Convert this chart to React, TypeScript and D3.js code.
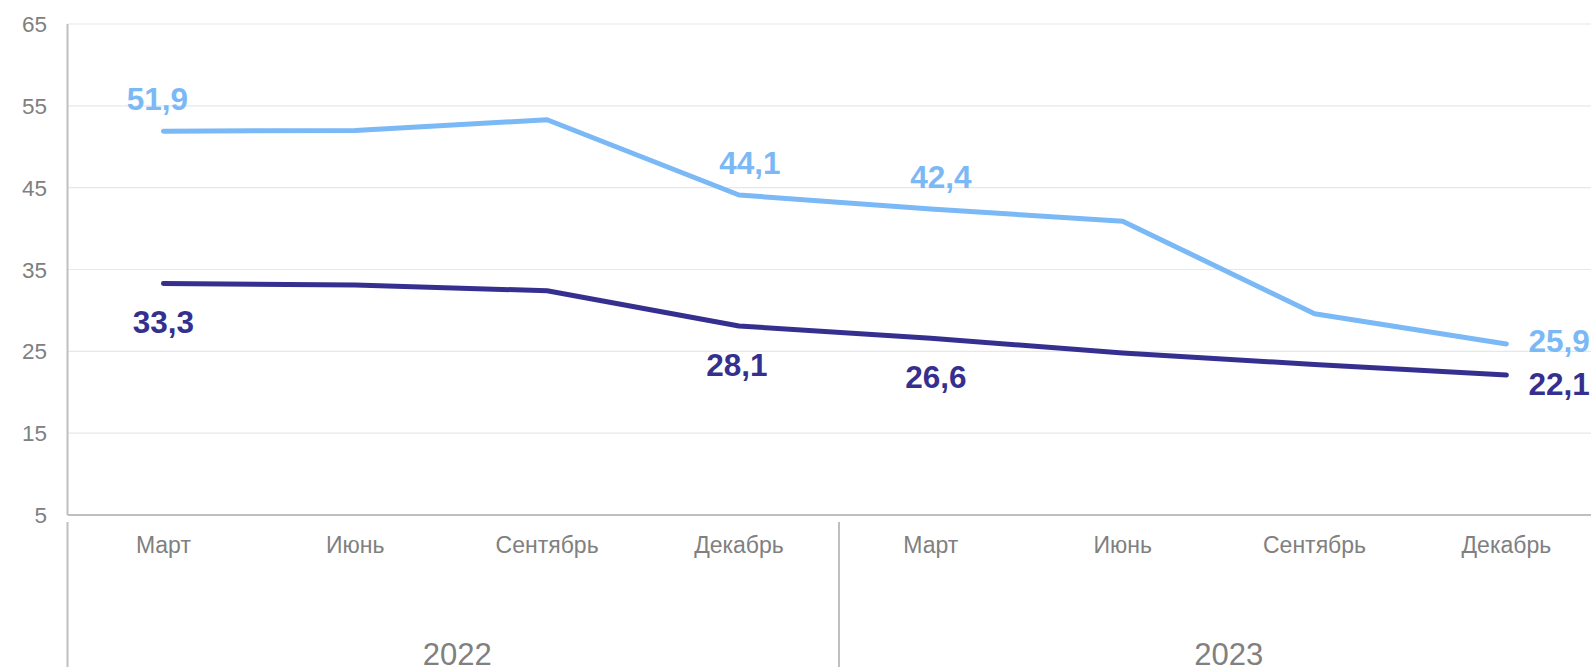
import React from "react";
import * as d3 from "d3";

const months = ["Март", "Июнь", "Сентябрь", "Декабрь", "Март", "Июнь", "Сентябрь", "Декабрь"];
const years = ["2022", "2023"];
const seriesLight = [51.9, 52.0, 53.3, 44.1, 42.4, 40.9, 29.6, 25.9];
const seriesDark = [33.3, 33.1, 32.4, 28.1, 26.6, 24.8, 23.4, 22.1];
const yTicks = [5, 15, 25, 35, 45, 55, 65];
// indices of points that carry a data label, with placement
const lightLabels = [
  { i: 0, pos: "above", dx: -6, dy: 0 },
  { i: 3, pos: "above", dx: 11, dy: 0 },
  { i: 4, pos: "above", dx: 10, dy: 0 },
  { i: 7, pos: "right", dx: 0, dy: 8 },
];
const darkLabels = [
  { i: 0, pos: "below", dx: 0, dy: 0 },
  { i: 3, pos: "below", dx: -2, dy: 0 },
  { i: 4, pos: "below", dx: 5, dy: 0 },
  { i: 7, pos: "right", dx: 0, dy: 20 },
];

const W = 1591;
const H = 667;
const LEFT = 67.5;
const BAND = 191.85;
const TOP = 24;
const BOTTOM = 515;
const LIGHT = "#7BB8F6";
const DARK = "#35308F";
const AXIS = "#BFBFBF";
const GRID = "#E8E8E8";
const TEXT = "#808080";
const FONT = "'Liberation Sans', Arial, sans-serif";

const fmt = (v: number) => v.toFixed(1).replace(".", ",");

export default function App() {
  const idx = months.map((_, i) => i);
  const x = d3.scaleBand<number>().domain(idx).range([LEFT, LEFT + BAND * months.length]).padding(0);
  const cx = (i: number) => (x(i) as number) + x.bandwidth() / 2;
  const y = d3.scaleLinear().domain([5, 65]).range([BOTTOM, TOP]);
  const yr = d3.scaleBand<string>().domain(years).range([LEFT, LEFT + 2 * 771.5]);

  const line = d3
    .line<number>()
    .x((_, i) => cx(i))
    .y((d) => y(d));

  const renderLabels = (
    data: number[],
    labels: { i: number; pos: string; dx: number; dy: number }[],
    color: string
  ) =>
    labels.map((l) => {
      const px = cx(l.i);
      const py = y(data[l.i]);
      let tx = px + l.dx;
      let ty = py;
      let anchor: "middle" | "start" = "middle";
      if (l.pos === "above") ty = py - 21;
      else if (l.pos === "below") ty = py + 50;
      else {
        anchor = "start";
        tx = px + 22;
        ty = py + l.dy;
      }
      return (
        <text
          key={`${color}-${l.i}`}
          x={tx}
          y={ty}
          textAnchor={anchor}
          fill={color}
          fontSize={31.5}
          fontWeight="bold"
          fontFamily={FONT}
        >
          {fmt(data[l.i])}
        </text>
      );
    });

  return (
    <div style={{ position: "absolute", left: 0, top: 0, width: W, height: H, overflow: "hidden", background: "#fff" }}>
      <svg width={W} height={H} style={{ display: "block" }}>
        {/* grid */}
        {yTicks
          .filter((t) => t !== 5)
          .map((t) => (
            <line key={`g${t}`} x1={LEFT} x2={W} y1={y(t)} y2={y(t)} stroke={GRID} strokeWidth={1.2} />
          ))}
        {/* y tick labels */}
        {yTicks.map((t) => (
          <text
            key={`yt${t}`}
            x={47}
            y={y(t)}
            dy="0.36em"
            textAnchor="end"
            fill={TEXT}
            fontSize={22.5}
            fontFamily={FONT}
          >
            {t}
          </text>
        ))}
        {/* axes */}
        <line x1={LEFT} x2={LEFT} y1={TOP} y2={BOTTOM} stroke={AXIS} strokeWidth={2} />
        <line x1={LEFT} x2={W} y1={BOTTOM} y2={BOTTOM} stroke={AXIS} strokeWidth={2} />
        {/* month labels */}
        {months.map((m, i) => (
          <text
            key={`m${i}`}
            x={cx(i)}
            y={552.5}
            textAnchor="middle"
            fill={TEXT}
            fontSize={23}
            fontFamily={FONT}
          >
            {m}
          </text>
        ))}
        {/* year separators & labels */}
        {years.map((yy) => (
          <g key={yy}>
            <line
              x1={yr(yy) as number}
              x2={yr(yy) as number}
              y1={522}
              y2={H}
              stroke={AXIS}
              strokeWidth={2}
            />
            <text
              x={(yr(yy) as number) + yr.bandwidth() / 2 + 4}
              y={665}
              textAnchor="middle"
              fill={TEXT}
              fontSize={31}
              fontFamily={FONT}
            >
              {yy}
            </text>
          </g>
        ))}
        {/* lines */}
        <path d={line(seriesLight) || ""} fill="none" stroke={LIGHT} strokeWidth={5} strokeLinecap="round" strokeLinejoin="round" />
        <path d={line(seriesDark) || ""} fill="none" stroke={DARK} strokeWidth={5} strokeLinecap="round" strokeLinejoin="round" />
        {renderLabels(seriesLight, lightLabels, LIGHT)}
        {renderLabels(seriesDark, darkLabels, DARK)}
      </svg>
    </div>
  );
}
